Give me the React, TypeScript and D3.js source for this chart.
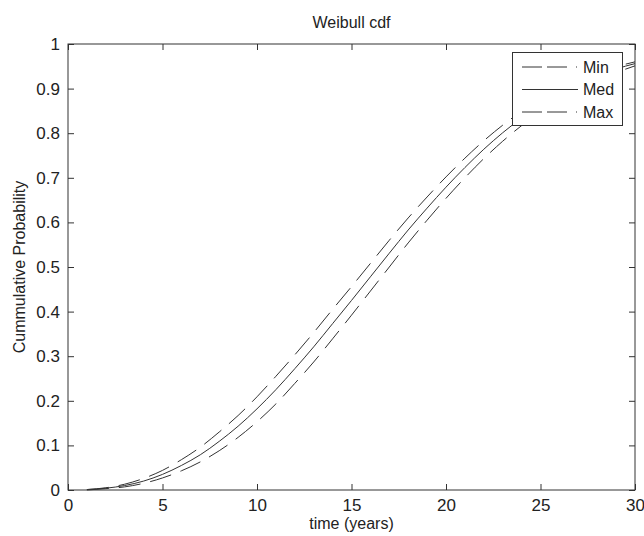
import React, {useEffect, useRef} from 'react'
import * as d3 from 'd3';

// time in years
const years = [1, 2, 3, 4, 5, 6, 7, 8, 9, 10, 11, 12, 13, 14, 15, 16, 17, 18, 19, 20, 21, 22, 23, 24, 25, 26, 27, 28, 29, 30];

const minCdf = [0.001, 0.005, 0.013, 0.026, 0.044, 0.068, 0.096, 0.130, 0.167, 0.209, 0.255, 0.303, 0.353, 0.405, 0.456,
    0.508, 0.560, 0.610, 0.657, 0.702, 0.744, 0.783, 0.818, 0.849, 0.876, 0.899, 0.919, 0.935, 0.949, 0.960];
const medCdf = [0.001, 0.004, 0.010, 0.020, 0.035, 0.055, 0.079, 0.109, 0.143, 0.182, 0.225, 0.272, 0.321, 0.373, 0.425,
    0.478, 0.531, 0.583, 0.632, 0.679, 0.723, 0.764, 0.801, 0.834, 0.863, 0.888, 0.910, 0.928, 0.944, 0.956];
const maxCdf = [0.000, 0.003, 0.007, 0.015, 0.027, 0.043, 0.063, 0.088, 0.118, 0.153, 0.193, 0.239, 0.287, 0.339, 0.392,
    0.446, 0.500, 0.554, 0.605, 0.654, 0.700, 0.743, 0.782, 0.817, 0.848, 0.875, 0.899, 0.919, 0.936, 0.951];

const seriesNames = ["Min", "Med", "Max"];
const xTicks = [0, 5, 10, 15, 20, 25, 30];
const yTicks = [0, 0.1, 0.2, 0.3, 0.4, 0.5, 0.6, 0.7, 0.8, 0.9, 1];

export default function App() {
    const ref = useRef<SVGSVGElement>(null);

    useEffect(() => {
        const svg = d3.select(ref.current);
        svg.selectAll("*").remove();

        const left = 68, right = 635, top = 44, bottom = 490;
        const font = "'Liberation Sans', Arial, sans-serif";
        const ink = "#222";

        const xScale = d3.scaleLinear().domain([0, 30]).range([left, right]);
        const yScale = d3.scaleLinear().domain([0, 1]).range([bottom, top]);

        const series = [minCdf, medCdf, maxCdf];
        const dashes = ["22 10", null, "22 10"];

        const line = d3.line<number>()
            .x((d, i) => xScale(years[i]))
            .y(d => yScale(d))
            .curve(d3.curveMonotoneX);

        // curves
        series.forEach((s, i) => {
            svg.append("path")
                .attr("d", line(s))
                .attr("fill", "none")
                .attr("stroke", "#333")
                .attr("stroke-width", 1)
                .attr("stroke-dasharray", dashes[i]);
        });

        // axes box with inward ticks
        const axisStyle = (g: any) => {
            g.select(".domain").remove();
            g.selectAll("line").attr("stroke", "#333");
            g.selectAll("text").attr("font-family", font).attr("font-size", 17).attr("fill", ink);
        };

        svg.append("g")
            .attr("transform", `translate(0,${bottom})`)
            .call(d3.axisBottom(xScale).tickValues(xTicks).tickSize(-6).tickPadding(9).tickFormat(d3.format("d")))
            .call(axisStyle);

        svg.append("g")
            .attr("transform", `translate(0,${top})`)
            .call(d3.axisTop(xScale).tickValues(xTicks).tickSize(-6).tickFormat(() => ""))
            .call(axisStyle);

        svg.append("g")
            .attr("transform", `translate(${left},0)`)
            .call(d3.axisLeft(yScale).tickValues(yTicks).tickSize(-6).tickPadding(8).tickFormat(d3.format("~g")))
            .call(axisStyle);

        svg.append("g")
            .attr("transform", `translate(${right},0)`)
            .call(d3.axisRight(yScale).tickValues(yTicks).tickSize(-6).tickFormat(() => ""))
            .call(axisStyle);

        svg.append("rect")
            .attr("x", left)
            .attr("y", top)
            .attr("width", right - left)
            .attr("height", bottom - top)
            .attr("fill", "none")
            .attr("stroke", "#333")
            .attr("stroke-width", 1);

        // legend
        const legend = svg.append("g");
        legend.append("rect")
            .attr("x", 512.5)
            .attr("y", 52.5)
            .attr("width", 110)
            .attr("height", 73)
            .attr("fill", "white")
            .attr("stroke", "#333");

        const legendDash = ["20 5 20 9 1", null, "20 5 20 9 1"];
        seriesNames.forEach((name, i) => {
            const y = 67 + i * 22.5;
            legend.append("line")
                .attr("x1", 522)
                .attr("x2", 578)
                .attr("y1", y)
                .attr("y2", y)
                .attr("stroke", "#333")
                .attr("stroke-dasharray", legendDash[i]);
            legend.append("text")
                .attr("x", 583)
                .attr("y", y)
                .attr("dy", "0.35em")
                .attr("font-family", font)
                .attr("font-size", 16)
                .attr("fill", ink)
                .text(name);
        });

        // title and axis labels
        svg.append("text")
            .attr("x", (left + right) / 2)
            .attr("y", 28)
            .attr("text-anchor", "middle")
            .attr("font-family", font)
            .attr("font-size", 16)
            .attr("fill", ink)
            .text("Weibull cdf");

        svg.append("text")
            .attr("x", (left + right) / 2)
            .attr("y", 529)
            .attr("text-anchor", "middle")
            .attr("font-family", font)
            .attr("font-size", 16)
            .attr("fill", ink)
            .text("time (years)");

        svg.append("text")
            .attr("transform", `translate(25,${(top + bottom) / 2}) rotate(-90)`)
            .attr("text-anchor", "middle")
            .attr("font-family", font)
            .attr("font-size", 16)
            .attr("fill", ink)
            .text("Cummulative Probability");
    }, []);

    return (
        <svg ref={ref} width={644} height={536}
             style={{position: "absolute", left: 0, top: 0, background: "white"}}/>
    );
}
